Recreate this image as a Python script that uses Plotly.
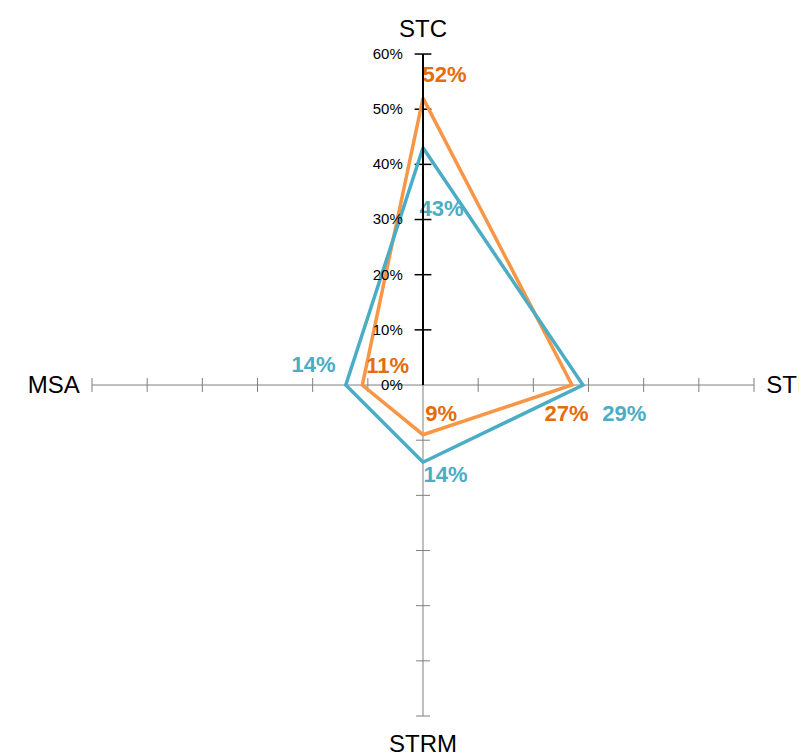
import plotly.graph_objects as go

# ---- data ----
categories = ["STC", "STI", "STRM", "MSA"]
tick_values = [0, 10, 20, 30, 40, 50, 60]
blue_values = [43, 29, 14, 14]
orange_values = [52, 27, 9, 11]

# ---- label placement (radius in %, angle in degrees) ----
blue_label_r = [31.8, 36.9, 17.0, 20.1]
blue_label_theta = [6.1, 98.5, 166.1, 279.4]
orange_label_r = [56.0, 26.6, 6.4, 7.1]
orange_label_theta = [4.0, 101.8, 149.0, 295.9]

BLUE = "#4bacc6"
ORANGE = "#f79646"
ORANGE_TXT = "#e46c0a"
GRAY = "#7f7f7f"
FONT = "Liberation Sans, Arial, sans-serif"

angle_of = {c: i * 360 / len(categories) for i, c in enumerate(categories)}
theta = [angle_of[c] for c in categories]

fig = go.Figure()

# tick marks crossing each spoke
for c in categories:
    a = angle_of[c]
    vertical = a % 180 == 0
    is_top = c == categories[0]
    fig.add_trace(go.Scatterpolar(
        r=tick_values[1:], theta=[a] * (len(tick_values) - 1), mode="markers",
        marker=dict(symbol="line-ew" if vertical else "line-ns",
                    size=12 if is_top else 10,
                    line=dict(color="black" if is_top else GRAY, width=1.5 if is_top else 1)),
        hoverinfo="skip", showlegend=False, cliponaxis=False))

# series polygons
for vals, col in [(orange_values, ORANGE), (blue_values, BLUE)]:
    fig.add_trace(go.Scatterpolar(
        r=vals + vals[:1], theta=theta + theta[:1], mode="lines",
        line=dict(color=col, width=3.5), showlegend=False, hoverinfo="skip",
        cliponaxis=False))

# data labels
for vals, lr, lt, col in [(blue_values, blue_label_r, blue_label_theta, BLUE),
                          (orange_values, orange_label_r, orange_label_theta, ORANGE_TXT)]:
    fig.add_trace(go.Scatterpolar(
        r=lr, theta=lt, mode="text", text=[f"{v}%" for v in vals],
        textposition="middle center",
        textfont=dict(family=FONT, size=22, color=col, weight="bold"),
        showlegend=False, hoverinfo="skip", cliponaxis=False))

fig.update_layout(
    width=807, height=753,
    margin=dict(l=0, r=0, t=0, b=0),
    paper_bgcolor="white",
    font=dict(family=FONT, color="black"),
    polar=dict(
        domain=dict(x=[0.1041, 0.9244], y=[0.0597, 0.9389]),
        bgcolor="rgba(0,0,0,0)",
        radialaxis=dict(range=[0, 60], tickvals=tick_values,
                        ticktext=[f"{v}%" for v in tick_values],
                        showgrid=False, showline=True, linecolor="black", linewidth=2,
                        angle=90, tickangle=90, side="counterclockwise",
                        ticks="outside", ticklen=14, tickcolor="rgba(0,0,0,0)",
                        tickfont=dict(family=FONT, size=15, color="black")),
        angularaxis=dict(direction="clockwise", rotation=90, thetaunit="degrees",
                         tickmode="array", tickvals=theta, ticktext=categories,
                         showline=False, showgrid=True, gridcolor=GRAY, gridwidth=1,
                         ticks="outside", ticklen=7, tickcolor="rgba(0,0,0,0)",
                         tickfont=dict(family=FONT, size=24, color="black")),
    ),
)

fig.write_html("out.html")
